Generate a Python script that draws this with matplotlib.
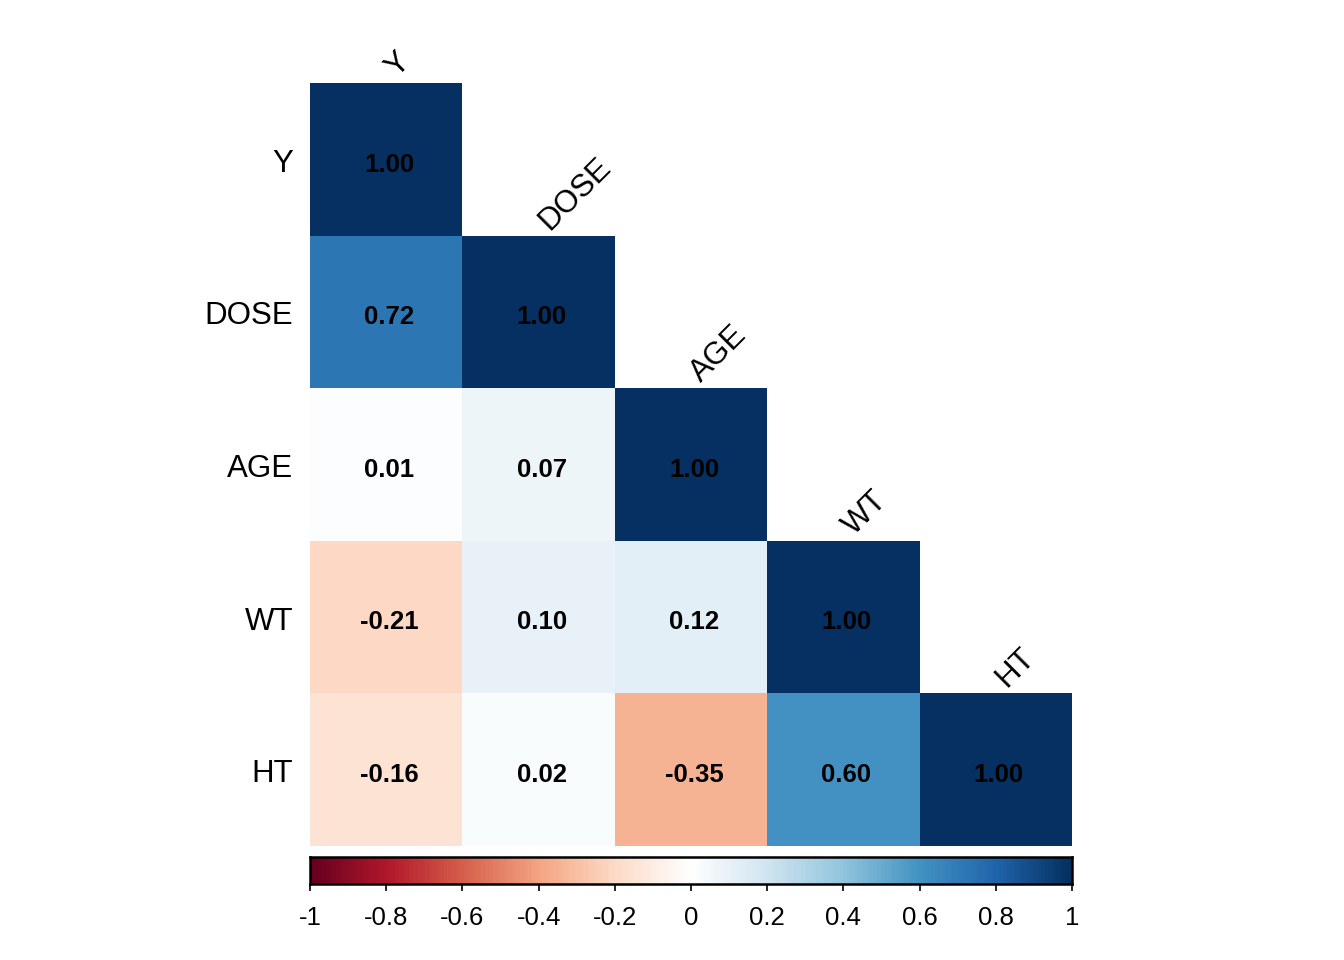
import numpy as np
import matplotlib
matplotlib.use("Agg")
import matplotlib.pyplot as plt
from matplotlib.colors import Normalize, LinearSegmentedColormap

plt.rcParams['font.family'] = ['Liberation Sans', 'DejaVu Sans']

labels = ["Y", "DOSE", "AGE", "WT", "HT"]
row_Y = [1.00]
row_DOSE = [0.72, 1.00]
row_AGE = [0.01, 0.07, 1.00]
row_WT = [-0.21, 0.10, 0.12, 1.00]
row_HT = [-0.16, 0.02, -0.35, 0.60, 1.00]
rows = [row_Y, row_DOSE, row_AGE, row_WT, row_HT]
cbar_ticks = [-1, -0.8, -0.6, -0.4, -0.2, 0, 0.2, 0.4, 0.6, 0.8, 1]
palette = ["#67001F", "#B2182B", "#D6604D", "#F4A582", "#FDDBC7", "#FFFFFF",
           "#D1E5F0", "#92C5DE", "#4393C3", "#2166AC", "#053061"]

n = len(labels)
M = np.full((n, n), np.nan)
for i, r in enumerate(rows):
    for j, v in enumerate(r):
        M[i, j] = v
Mm = np.ma.masked_invalid(M)

W, H = 1344, 960
fig = plt.figure(figsize=(W / 100, H / 100), dpi=100)
cmap = LinearSegmentedColormap.from_list('corrRdBu', palette, N=200)
norm = Normalize(-1, 1)

ax = fig.add_axes([310 / W, 1 - 846 / H, (1072 - 310) / W, (846 - 83) / H])
ax.pcolormesh(np.arange(n + 1), np.arange(n + 1), Mm, cmap=cmap, norm=norm,
              edgecolors='none', antialiased=False)
ax.set_xlim(0, n)
ax.set_ylim(n, 0)
ax.axis('off')

for i in range(n):
    for j in range(i + 1):
        ax.text(j + 0.52, i + 0.535, f"{M[i, j]:.2f}", ha='center', va='center',
                fontsize=18.5, fontweight='bold', color='black')
    ax.text(-0.11, i + 0.53, labels[i], ha='right', va='center', fontsize=22.5,
            color='black', clip_on=False)
    ax.text(i + 0.6, i + 0.0, labels[i], ha='left', va='bottom', fontsize=22.5,
            rotation=45, rotation_mode='anchor', color='black', clip_on=False)

cax = fig.add_axes([310 / W, 1 - 884 / H, (1072 - 310) / W, 27 / H])
grad = np.linspace(-1, 1, 512).reshape(1, -1)
cax.imshow(grad, aspect='auto', cmap=cmap, norm=norm, extent=[-1, 1, 0, 1])
cax.set_xlim(-1, 1)
cax.set_yticks([])
cax.set_xticks(cbar_ticks)
cax.set_xticklabels([f"{t:g}" for t in cbar_ticks], fontsize=18.5)
cax.tick_params(axis='x', direction='out', length=5, width=1.2, pad=11)
for s in cax.spines.values():
    s.set_linewidth(1.8)
    s.set_color('black')

fig.savefig('out.png', dpi=100)
